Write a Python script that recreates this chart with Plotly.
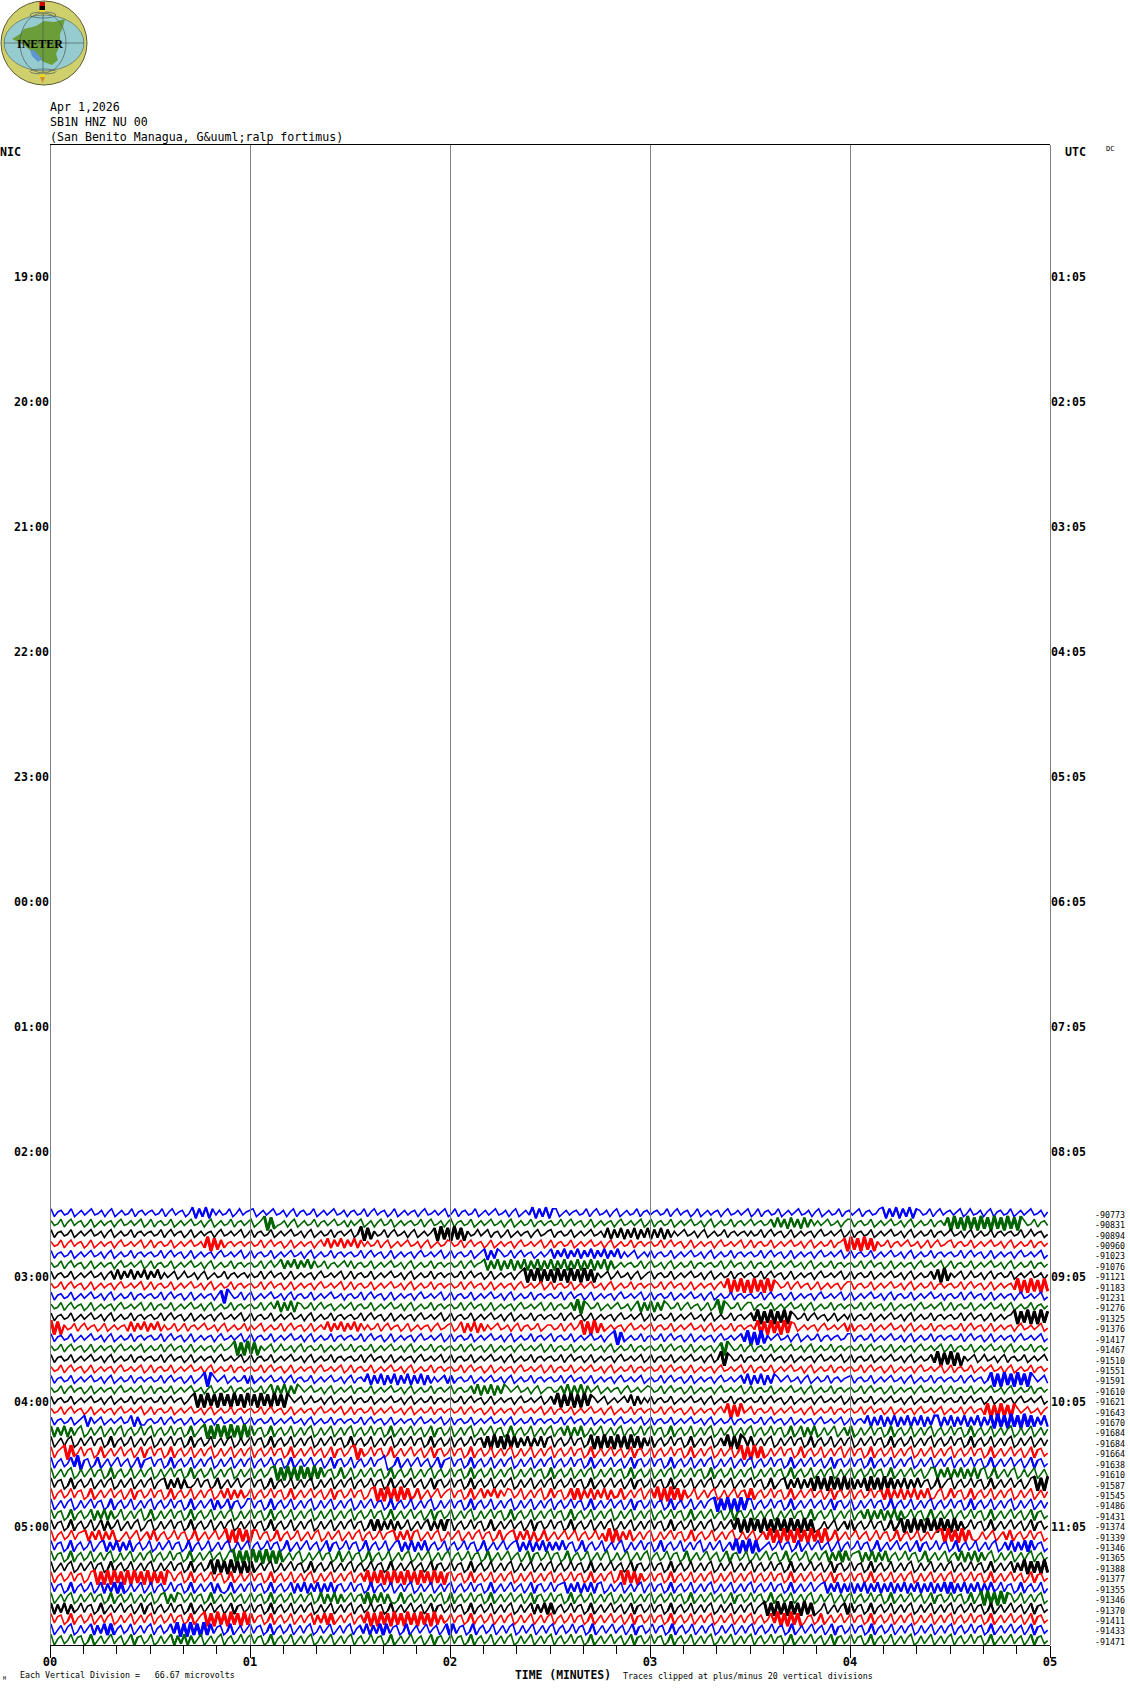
import plotly.graph_objects as go

COLORS = ["#0000ff", "#006400", "#000000", "#ff0000"]
HOUR_ROWS = [12, 24, 36, 48, 60, 72, 84, 96, 108, 120, 132]
NIC_LABELS = ["19:00", "20:00", "21:00", "22:00", "23:00", "00:00", "01:00", "02:00", "03:00", "04:00", "05:00"]
UTC_LABELS = ["01:05", "02:05", "03:05", "04:05", "05:05", "06:05", "07:05", "08:05", "09:05", "10:05", "11:05"]
MINUTES = [0, 1, 2, 3, 4, 5]
MINUTE_LABELS = ["00", "01", "02", "03", "04", "05"]
FIRST_ROW = 102
DC_VALUES = ["-90773", "-90831", "-90894", "-90960", "-91023", "-91076", "-91121", "-91183", "-91231", "-91276", "-91325", "-91376", "-91417", "-91467", "-91510", "-91551", "-91591", "-91610", "-91621", "-91643", "-91670", "-91684", "-91684", "-91664", "-91638", "-91610", "-91587", "-91545", "-91486", "-91431", "-91374", "-91339", "-91346", "-91365", "-91388", "-91377", "-91355", "-91346", "-91370", "-91411", "-91433", "-91471"]

# One digit per second of each 5 minute line, estimated by eye: 0 = highest excursion, 9 = lowest.
TRACES = [
"274365275364265374275365274364 365274264375182718263652752643 275364265374274365275364265374 365274264375275364374265364275 274365275364265374275361827182 275364365274265374275365274364 365274264375275364374265364275 274365275364265374275365274364 274365218271827182365274264 364275265374274365275364265374",
"365274264375275364374265364275 274365275364265374275365274364 275309186537427536527436426537 364275374265275364365274265374 274365275364265374275365274364 365274264375275364374265364275 274365275364265374275365274364 264365271728172817263642653742 274365275364265374275365274361 908190819081908190819036527436",
"274365275364265374275365274364 365274264375275364374265364275 274365275364265374275365274364 275091836527426537427536419081 908193652642743752753643742653 274365275364265371827182718271 827182736426537427536527436436 365274264375275364374265364275 274365275364265374275365274364 265374275365274364365275264375",
"365274264375275364374265364275 274365275364265370918274364364 365274264375275364374261726172 617263652742753642653742753652 365274264375275364374265364275 274365275364265374275365274364 365274264375275364374265364275 274365275364265374275365274319 081908193652743642653752742653 274365275364265374275365274364",
"274365275364265374275365274364 365274264375275364374265364275 274365275364265374275365274364 365274264375275364374265364275 274365275318271365274264375364 172617261726172617261736427536 274365275364265374275365274364 365274264375275364374265364275 274365275364265374275365274364 365274264375275364374265364275",
"365274264375275364374265364275 274365275364265374275365274364 365274264172617261726527436426 274365275364265374275365274364 365274264318271827182718271827 182718271827182718275364365274 265374275365274364365275264375 274365275364265374275365274364 365274264375275364374265364275 274365275364265374275365274364",
"274365275364265374271726172617 261736427526537427536527436436 365274264375275364374265364275 274365275364265374275365274364 365274264375275364374209180918 190819081908193642752653742753 274365275364265374275365274364 365274264375275364374265364275 274365275364265374275365271908 364275265374274365275364265374",
"365274264375275364374265364275 274365275364265374275365274364 365274264375275364374265364275 274365275364265374275365274364 365274264375275364374265364275 274365275364265374275365274364 365274264375275364374260918091 908190813652742643752753643742 274365275364265374275365274364 365274264375275364370919081908",
"274365275364265374275365274364 365274264375275364374190365274 275364265374274365275364265374 365274264375275364374265364275 274365275364265374275365274364 365274264375275364374265364275 274365275364265374275365274364 365274264375275364374265364275 275364265374274365275364265374 365274264375275364374265364275",
"365274264375275364374265364275 274365275364265374275365274364 365274261827182365274264375364 274365275364265374275365274364 365274264375275364374265364275 274365270913652753642653741827 182713652742643752750913652742 274365275364265374275365274364 365274264375275364374265364275 274365275364265374275365274364",
"274365275364265374275365274364 365274264375275364374265364275 274365275364265374275365274364 365274264375275364374265364275 274365275364265374275365274364 365274264375275364374265364275 274365275364265374275365274364 270918091809136527426437527536 274365275364265374275365274364 365274264375275364309180919081",
"091936527426437527536437172617 261736527527436426537427536527 364275365274264375275361726172 617263652742643752753643742653 275182718273642653742743652753 365274264091908275364374265364 274365275364265374275365274364 360919081908127536437426536427 274365275364265374275365274364 365274264375275364374265364275",
"274365275364265374275365274364 365274264375275364374265364275 274365275364265374275365274364 365274264375275364374265364275 274365275364265374275365274364 274365275364265374209175365274 365274264375275364374265364270 919083642653742753652743643652 274365275364265374275365274364 365274264375275364374265364275",
"365274264375275364374265364275 365274264375275364374265309190 819364275265374274365275364265 274365275364265374275365274364 365274264375275364374265364275 274365275364265374275365274364 365274264375275364374190365274 274365275364265374275365274364 365274264375275364374265364275 274365275364265374275365274364",
"274365275364265374275365274364 365274264375275364374265364275 274365275364265374275365274364 365274264375275364374265364275 274365275364265374275365274364 365274264375275364374265364275 274365275364265374275091365274 365274264375275364374265364275 274365275364265374275365270918 091936427526537427436527536426",
"365274264375275364374265364275 274365275364265374275365274364 365274264375275364374265364275 274365275364265374275365274364 365274264375275364374265364275 274365275364265374275365274364 365274264375275364374265364275 274365275364265374275365274364 365274264375275364374265364275 274365275364265374275365274364",
"274365275364265374275365274364 365274264375275309036427536527 275364265374274365275364265374 274361827182718271827182736427 274365275364265374275365274364 365274264375275364374265364275 365274264375275364374265364271 827182713642653742753652743643 274365275364265374275365274364 365274264375091908190819036427",
"365274264375275364374265364275 274365275364265374275365274364 365274182718271364265374275364 274365275364265374275365274364 274365271827182713642653742753 365271827182642753643742653642 365274264375275364374265364275 274365275364265374275365274364 365274264375275364374265364275 274365275364265374275365274364",
"274365275364265374275365274364 365274264375209190819081908190 819081908190364275265374275364 274365275364265374275365274364 365274264375275364374265364275 270918091908136427536426182736 274365275364265374275365274364 365274264375275364374265364275 274365275364265374275365274364 365274264375275364374265364275",
"365274264375275364374265364275 274365275364265374275365274364 365274264375275364374265364275 274365275364265374275365274364 365274264375275364374265364275 274365275364265374275365274364 365274264375275364374260918064 274365275364265374275365274364 365274264375275364374265364275 365274264370919081903642653742",
"274365275318264275364265182774 365274264375275364374265364275 274365275364265374275365274364 365274264375275364374265364275 274365275364265374275365274364 365274264375275364374265364275 274365275364265374275365274364 365274264375275364374265364275 274361827182718271827182711827 182718271827190819081908182718",
"182718273186274185273184275173 184275173286185209190819081908 173286184275185273186274185273 184275173286185274174285183275 185273186274173286184275185273 184271827186274185273184275173 173286184275185273186274185273 184275173286185182718627418527 186274173286184275185273184275 173286184275185273186274185273",
"185273186274173286184275185273 186274173286184275185273186274 173286184275185273186274173286 184275185273186274173286184275 184275173281908190818271827182 184275173286091908190819081927 184275173286185273186270919027 185273186274173286184275185273 186274173286184275185273184275 173286184275185273186274185273",
"184209075173286185274174285183 173286184275185273186274185273 184275173286185274174285183275 109275173286185274174285183275 173286184275185273186274185273 184275173286185274174285183275 184275173286185273186274185091 908186274173286184275185273184 173286184275185273186274185273 184275173286185274174285183275",
"184275170932861852741742851832 173286184275185273186274185273 184275173286185274174285183275 184275173209861852741742851832 173286184275185273186274185273 184275173286185274174285183275 173286184275185273186274185273 184275173286185274174285183275 173286184275185273186274185273 184275173286185274174285183275",
"185273186274173286184275185273 186274173286184275185273186274 184275109190819081908173286185 186274173286184275185273184275 173286184275185273186274173286 184275185273186274173286184275 185273186274173286184275185273 186274173286184275185273186274 184275173286185274174285118271 827182718218618527318627418527",
"173286184275185273186274185273 184218271827751732861852741742 173286184275185273186274185273 184275173286185274174285183275 173286184275185273186274185273 184275173286185274174285183275 173286184275185273186274185273 173286185218271827190819081908 182719081908182718271732861852 184275173286185274174285109190",
"184275173286185274174285183275 173286184275185273186271827275 184275173286185274174285183275 173286109190819081861852741742 173286184172617261275185273186 173286181827182718276185273184 170919081927518527318627417328 184275173286185274174285183275 184275173281827182718271873186 173286184275185273186274185273",
"185273186274173286184275185273 184275173286185274182751832751 173286184275185273186274185273 186274173286184275185273186274 173286184275185273186274185273 184275173286185274174285183275 173286184275185273109180919081 184275173286185274174285183275 186274173286184275185273184275 173286184275185273186274185273",
"173286184275182718275185273186 186274173286184275185273186274 173286184275185273186274185273 184275173286185274174285183275 185273186274173286184275185273 173286184275185273186274185273 184275173286185274174285183275 185273186274173286184275185273 184271827182718275173286185274 184275173286185274174285183275",
"173286184275185182751852731862 186274173286184275185273186274 173286184275185273186274185273 173286181827182751852731827181 184275173286185274174285183275 173286184275185273186274185273 173286184275185273186274170919 081908190819081908198627418527 184275173286185091908190819081 908275173286185274174285183275",
"184275173218271827188527418527 184275173286185274174091908191 173286184275185273186274185273 1842751732182718218527318627 4185273 1732861842182718286185274174 1842751738091827185273186274 173286184275185273186274185270 919081908190819086185274174285 1732861842751852731090819081 7 8627418527 184275173286",
"173286184275185218271827184275 186274173286184275185273186274 184275173286185274174285183275 173286184275185218271827184275 184275173286185274174218271827 182727173286184275185273186274 173286184275185273186274185270 918091864275173286185274174285 184275173286185274174285183275 173286184275185273186271827 18 173286",
"173286184275185273186274185273 184275173286185274174285109191 908190819185273186274173286184 173286184275185273186274185273 184275173286185274174285183275 173286184275185273186274185273 184275173286185274174285183275 186274173286184275185273182718 1732 18271827184275173286185274 18427 182718273 186274185273184275",
"185273186274173286184275185273 186274173286184275090819081918 185273186274173286184275185273 184275173286185274174285183275 173286184275185273186274185273 184275173286185274174285183275 173286184275185273186274185273 184275173286185274174285183275 173286184275185273186274185273 184275173286185274182709181908",
"184275173286109190908190908190 918190273186184275173286185274 173286184275185273186274185273 184270918091908190819081908192 173286184275185273186274185273 184275173286185273186090819275 173286184275185273186274185273 184275173286185274174285183275 173286184275185273186274185273 184275173286185274174285183275",
"173286184275185182718186274185 184275173286185274182786185273 173286184275182718271827183275 173286184275185273186274185273 184275173286185274174285183275 173218271827182186274185273184 173286184275185273186274185273 184275173286185274174218271827 182718271827182718271827182718 182718271827175173286184275185",
"185273186274173286184275185273 186218271275173286185274174285 173286184275185273186182718274 173281827182786184275185273186 184275173286185274174285183275 173286184275185273186274185273 184275173286185274174285183275 173286184275185273186274185273 184275173286185274174285183275 173286184090819081275185273186",
"182718275173286185274174285183 184275173286185274174285183275 173286184275185273186274185273 184275173286185274174285183275 173286184275185273186274182718 184275173286185274174285183275 173286184275185273186274185273 1842 0919081908190819 7518527318 173286184275185273186274185273 184275173286185274174285183275",
"173286184275185273186274185273 184275173286185209190819081908 1732861842751852731827 18185273 184270919081908190819081908 275 173286184275185273186274185273 184275173286185274174285183275 173286184275185273186274185273 1842751709190819 73286185274174 173286184275185273186274185273 184275173286185274174285183275",
"185273186274182718184275185273 184275170919081908173286185274 173286184275185273186274185273 18427182718173286185274174285 18 173286184275185273186274185273 184275173286185274174285183275 173286184275185273186274185273 184275173286185274174285183275 173286184275185273186274185273 184275173286185274174285183275",
"184275173286185274174285183275 186274182718274185273184275173 173286184275185273186274185273 184275173286185274174285183275 173286184275185273186274185273 184275173286185274174285183275 173286184275185273186274185273 184275173286185274174285183275 173286184275185273186274185273 184275173286185274174285183275",
]
AMP = 0.15
MOD_JUMP = 5
STRONG_JUMP = 7

fig = go.Figure()
for i, text in enumerate(TRACES):
    digits = [int(c) for c in text.replace(" ", "")]
    n = len(digits)
    row = FIRST_ROW + i
    xs = [5 * (k + 0.3) / n for k in range(n)]
    ys = [row + 0.5 + (d - 4.5) * AMP for d in digits]
    color = COLORS[i % 4]
    fig.add_trace(go.Scatter(x=xs, y=ys, mode="lines", showlegend=False, hoverinfo="skip",
                             line=dict(color=color, width=1.6)))
    # Stretches of fast, large swings read as thick dark blobs in the original.
    for limit, width in ((MOD_JUMP, 2.2), (STRONG_JUMP, 3.0)):
        keep = [False] * n
        for k in range(n - 2):
            if abs(digits[k] - digits[k + 1]) >= limit and abs(digits[k + 1] - digits[k + 2]) >= limit:
                keep[k] = keep[k + 1] = keep[k + 2] = True
        fig.add_trace(go.Scatter(x=xs, y=[y if f else None for y, f in zip(ys, keep)], mode="lines",
                                 showlegend=False, hoverinfo="skip", connectgaps=False,
                                 line=dict(color=color, width=width)))

# Empty traces so the extra label axes are drawn.
fig.add_trace(go.Scatter(x=[None], y=[None], yaxis="y2", showlegend=False))
fig.add_trace(go.Scatter(x=[None], y=[None], yaxis="y3", showlegend=False))


def px(x, y):
    return (x - 50) / 1000, (1645 - y) / 1500


MONO = "DejaVu Sans Mono"
shapes = []
for m in MINUTES:
    a = (m / 5) + 0.0005
    shapes.append(dict(type="line", xref="paper", yref="paper", x0=a, x1=a, y0=0, y1=1,
                       line=dict(color="#808080", width=1), layer="above"))


def ell(x0, y0, x1, y1, fill, line="rgba(0,0,0,0)", w=1):
    a, b = px(x0, y0)
    c, d = px(x1, y1)
    shapes.append(dict(type="circle", xref="paper", yref="paper", x0=a, y0=b, x1=c, y1=d,
                       fillcolor=fill, line=dict(color=line, width=w), layer="above"))


def rect(x0, y0, x1, y1, fill):
    a, b = px(x0, y0)
    c, d = px(x1, y1)
    shapes.append(dict(type="rect", xref="paper", yref="paper", x0=a, y0=b, x1=c, y1=d,
                       fillcolor=fill, line=dict(width=0), layer="above"))


def poly(points, fill):
    coords = [px(*p) for p in points]
    path = "M " + " L ".join(f"{a:.5f} {b:.5f}" for a, b in coords) + " Z"
    shapes.append(dict(type="path", xref="paper", yref="paper", path=path, fillcolor=fill,
                       line=dict(width=0), layer="above"))


def seg(x0, y0, x1, y1):
    a, b = px(x0, y0)
    c, d = px(x1, y1)
    shapes.append(dict(type="line", xref="paper", yref="paper", x0=a, y0=b, x1=c, y1=d,
                       line=dict(color="#4a5a5a", width=0.7), layer="above"))


ell(1, 1, 87, 85, "#cfcf6c", "#5a5a30", 1)
ell(4, 15, 84, 71, "#96ccd0", "#5a6a5a", 0.7)
poly([(12, 39), (20, 34), (24, 29), (36, 26), (44, 21), (54, 22), (65, 19), (63, 27), (60, 34),
      (60, 45), (56, 54), (58, 60), (52, 65), (44, 62), (36, 57), (30, 50), (22, 44)], "#6b9e38")
poly([(30, 50), (34, 50), (42, 59), (38, 62), (32, 56)], "#5f96d0")
ell(20, 13, 66, 73, "rgba(0,0,0,0)", "#4a5a5a", 0.7)
ell(30, 12, 56, 18, "rgba(0,0,0,0)", "#4a5a5a", 0.7)
ell(30, 69, 56, 74, "rgba(0,0,0,0)", "#4a5a5a", 0.7)
seg(43, 13, 43, 73)
seg(4, 43, 84, 43)
rect(39.5, 2, 45, 6, "#d00000")
rect(39.5, 6, 45, 10, "#000000")
rect(39.5, 10, 45, 12, "#e8d820")
rect(39.5, 74, 45, 77, "#e8d820")
poly([(40, 77), (45, 77), (42.5, 83)], "#d88a30")

annotations = []


def label(x, y, text, size, bold=False, anchor="left", family=MONO):
    a, b = px(x, y)
    shown = f"<b>{text}</b>" if bold else text
    annotations.append(dict(xref="paper", yref="paper", x=a, y=b, xanchor=anchor, yanchor="middle",
                            text=shown, showarrow=False, font=dict(family=family, size=size, color="#000000"),
                            borderpad=0, borderwidth=0))


label(50, 107, "Apr 1,2026", 11.6)
label(50, 122, "SB1N HNZ NU 00", 11.6)
label(50, 137, "(San Benito Managua, G&amp;uuml;ralp fortimus)", 11.6)
label(0, 152, "NIC", 11.6, bold=True)
label(1065, 152, "UTC", 11.6, bold=True)
label(1106, 149, "DC", 7)
label(20, 1675, "Each Vertical Division =   66.67 microvolts", 8.3)
label(515, 1675, "TIME (MINUTES)", 11.4, bold=True)
label(623, 1676, "Traces clipped at plus/minus 20 vertical divisions", 8.3)
label(3, 1678, "M", 5)
label(40, 44, "<b>INETER</b>", 12, anchor="center", family="Liberation Serif")

tick_pos = [r + 0.7 for r in HOUR_ROWS]
fig.update_layout(
    width=1130, height=1689, autosize=False,
    margin=dict(l=50, r=80, t=145, b=44, pad=0, autoexpand=False),
    paper_bgcolor="#ffffff", plot_bgcolor="#ffffff", showlegend=False,
    shapes=shapes, annotations=annotations,
    xaxis=dict(range=[0, 5], showgrid=False, zeroline=False, showline=True, linecolor="#000000", linewidth=1,
               mirror=True, ticks="outside", tickvals=MINUTES, ticktext=[f"<b>{t}</b>" for t in MINUTE_LABELS],
               ticklen=12, tickcolor="#000000", ticklabelstandoff=-6, automargin=False,
               tickfont=dict(family=MONO, size=12, color="#000000"),
               minor=dict(tickvals=[m / 6 for m in range(31) if m % 6], ticks="outside", ticklen=8, tickcolor="#000000")),
    yaxis=dict(range=[144, 0], showgrid=False, zeroline=False, showline=False, ticks="", tickvals=tick_pos,
               automargin=False, ticktext=[f"<b>{t}</b>" for t in NIC_LABELS],
               tickfont=dict(family=MONO, size=11.6, color="#000000")),
    yaxis2=dict(range=[144, 0], overlaying="y", side="right", showgrid=False, zeroline=False, showline=False, ticks="",
                automargin=False, tickvals=tick_pos, ticktext=[f"<b>{t}</b>" for t in UTC_LABELS],
                tickfont=dict(family=MONO, size=11.6, color="#000000")),
    yaxis3=dict(range=[144, 0], overlaying="y", side="right", showgrid=False, zeroline=False, showline=False, ticks="",
                automargin=False, tickvals=[FIRST_ROW + i + 0.7 for i in range(len(DC_VALUES))], ticktext=DC_VALUES,
                ticklabelstandoff=44, tickfont=dict(family=MONO, size=8.3, color="#000000")),
)
fig.write_html("out.html", config={"displayModeBar": False},
               post_script="document.body.style.margin='0';document.documentElement.style.overflow='hidden';")
